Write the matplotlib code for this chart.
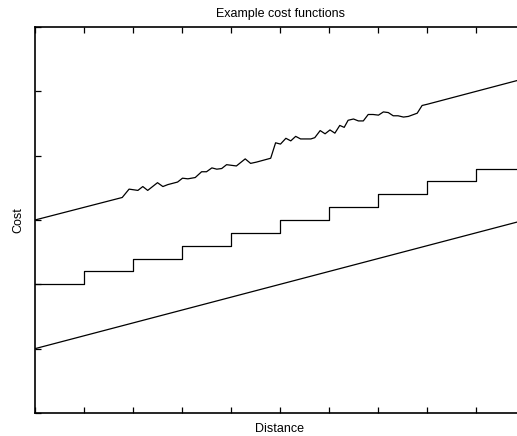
import matplotlib
matplotlib.use("Agg")
import matplotlib.pyplot as plt

plt.rcParams['font.family'] = ['Liberation Sans', 'DejaVu Sans']

# straight cost line
linear_x = [0, 10]
linear_y = [1.0, 3.0]

# stepped cost line (value held from each integer distance)
step_x = [0, 1, 2, 3, 4, 5, 6, 7, 8, 9, 10]
step_y = [2.0, 2.2, 2.4, 2.6, 2.8, 3.0, 3.2, 3.4, 3.6, 3.8, 3.8]

# noisy cost line
noisy_x = [0.0, 1.78, 1.92, 2.10, 2.20, 2.30, 2.50, 2.61, 2.71, 2.91, 3.01,
           3.12, 3.27, 3.40, 3.50, 3.61, 3.71, 3.81, 3.91, 4.11, 4.29, 4.40,
           4.52, 4.81, 4.91, 5.01, 5.12, 5.22, 5.32, 5.42, 5.63, 5.71, 5.82,
           5.92, 6.02, 6.12, 6.22, 6.31, 6.39, 6.50, 6.60, 6.70, 6.80, 6.90,
           7.01, 7.11, 7.21, 7.31, 7.41, 7.52, 7.62, 7.80, 7.90, 8.01, 10.0]
noisy_y = [3.00, 3.35, 3.48, 3.46, 3.52, 3.46, 3.58, 3.52, 3.55, 3.59, 3.65,
           3.64, 3.66, 3.75, 3.75, 3.81, 3.79, 3.80, 3.86, 3.84, 3.95, 3.88,
           3.90, 3.96, 4.20, 4.18, 4.27, 4.23, 4.30, 4.26, 4.26, 4.28, 4.39,
           4.34, 4.40, 4.35, 4.47, 4.44, 4.55, 4.57, 4.54, 4.54, 4.64, 4.64,
           4.63, 4.68, 4.67, 4.62, 4.62, 4.60, 4.61, 4.66, 4.78, 4.80, 5.20]

fig = plt.figure(figsize=(5.17, 4.36), dpi=100)
# axes run a little past the right edge of the figure, as in the original
ax = fig.add_axes([35 / 517, 23 / 436, 490 / 517, 386 / 436])

ax.plot(linear_x, linear_y, color='black', lw=0.9)
ax.step(step_x, step_y, where='post', color='black', lw=0.9)
ax.plot(noisy_x, noisy_y, color='black', lw=0.9)

ax.set_xlim(0, 10)
ax.set_ylim(0, 6)
ax.set_xticks(range(0, 11))
ax.set_yticks(range(0, 7))
ax.set_xticklabels([])
ax.set_yticklabels([])
ax.tick_params(direction='in', length=4, width=0.9, top=True, right=True)
for s in ax.spines.values():
    s.set_linewidth(1.2)

ax.set_title("Example cost functions", fontsize=9, pad=7)
ax.set_xlabel("Distance", fontsize=9, labelpad=4)
ax.set_ylabel("Cost", fontsize=9, labelpad=4)

fig.savefig("out.png", dpi=100)
